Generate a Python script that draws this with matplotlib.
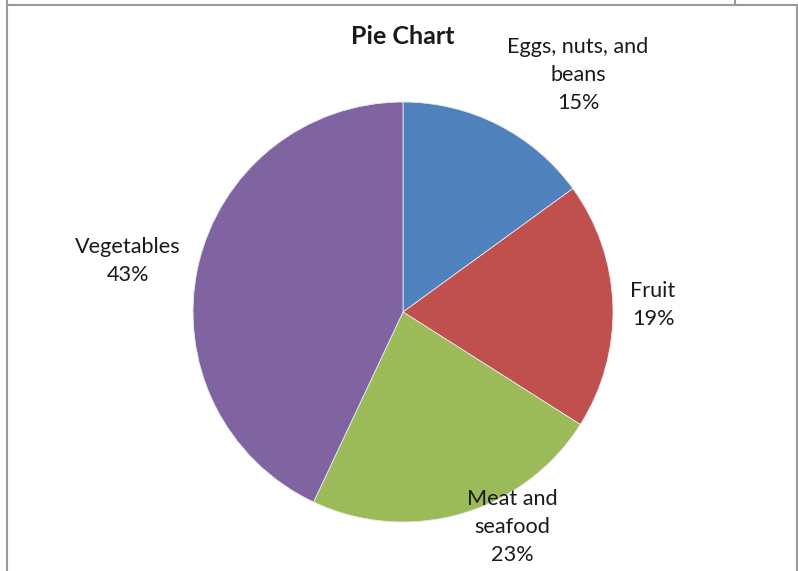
import matplotlib
matplotlib.use("Agg")
import matplotlib.pyplot as plt
from matplotlib.lines import Line2D

categories = ["Eggs, nuts, and\nbeans", "Fruit", "Meat and\nseafood", "Vegetables"]
shares = [15, 19, 23, 43]
colors = ["#4F81BD", "#C0504D", "#9BBB59", "#8064A2"]
title = "Pie Chart"

W, H = 798, 571
fig = plt.figure(figsize=(W / 100, H / 100), dpi=100)
ax = fig.add_axes([0, 0, 1, 1])

cx, cy, r = 403, H - 312, 210
wedges, _ = ax.pie(shares, colors=colors, startangle=90, counterclock=False,
                   center=(cx, cy), radius=r, frame=True,
                   wedgeprops=dict(edgecolor="#E8E8F0", linewidth=0.6))
ax.set_xlim(0, W)
ax.set_ylim(0, H)
ax.set_aspect("equal")
ax.set_axis_off()

# label anchors as (offset x, offset y) from pie centre, in pixels
label_offsets = [(175, 237), (250, 7), (109, -215), (-275, 51)]
font = ["Lato", "DejaVu Sans"]
for cat, val, (dx, dy) in zip(categories, shares, label_offsets):
    ax.text(cx + dx, cy + dy, f"{cat}\n{val}%", ha="center", va="center",
            fontsize=15.6, family=font, color="#1a1a1a", linespacing=1.5)

ax.text(cx, H - 36, title, ha="center", va="center", fontsize=18,
        fontweight="bold", family=font, color="#1a1a1a")

# frame lines around the chart area
gray = "#9a9a9a"
fig.add_artist(Line2D([7 / W, 7 / W], [0, 1], color=gray, lw=1.5))
fig.add_artist(Line2D([7 / W, 1], [1 - 4.5 / H, 1 - 4.5 / H], color=gray, lw=1.5))
fig.add_artist(Line2D([797 / W, 797 / W], [0, 1 - 4.5 / H], color=gray, lw=1.5))
fig.add_artist(Line2D([735 / W, 735 / W], [1 - 4.5 / H, 1], color=gray, lw=1.5))

fig.savefig("out.png", dpi=100, facecolor="white")
